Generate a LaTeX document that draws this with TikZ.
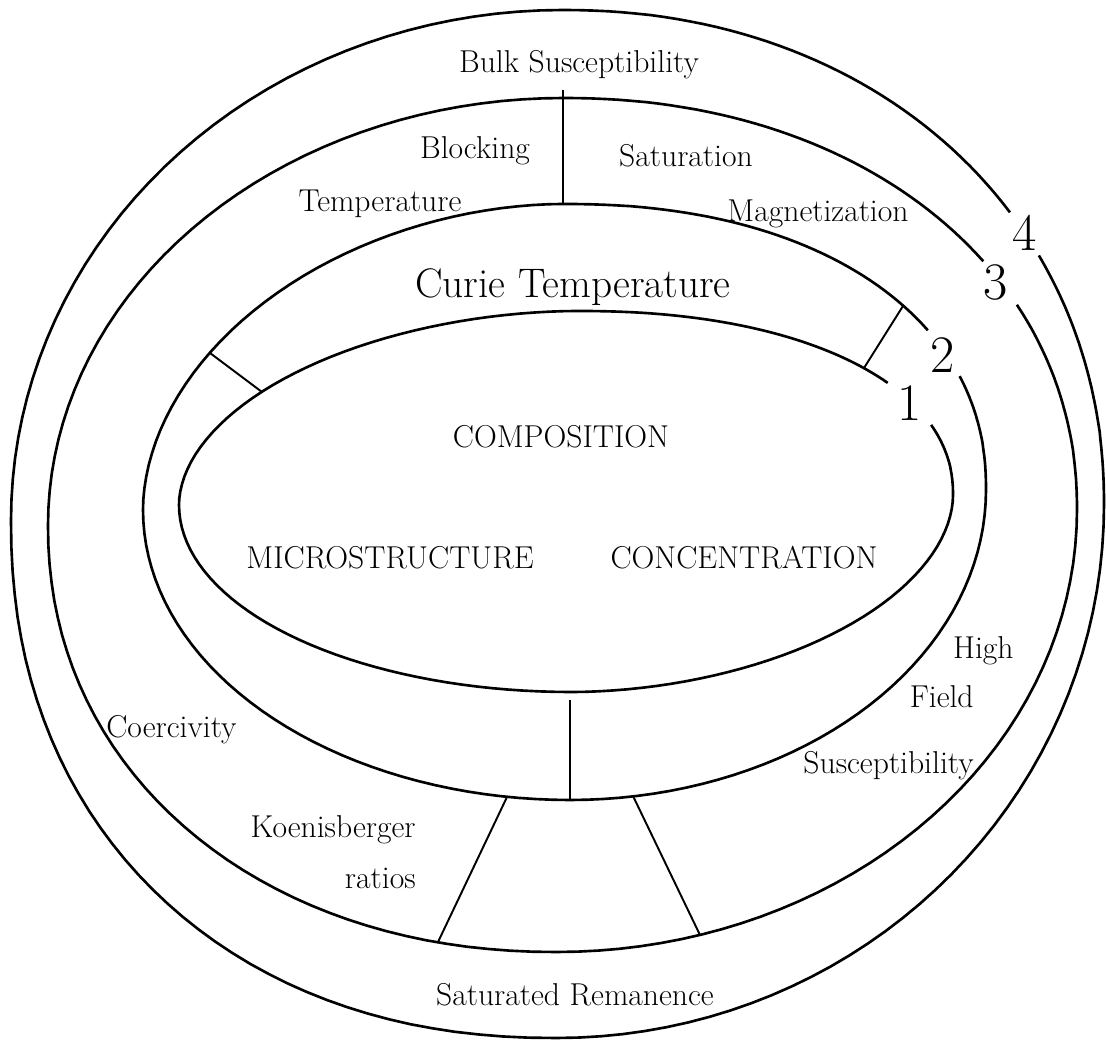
\documentclass[tikz,border=0pt]{standalone}
\usepackage{fontspec}
\usepackage{tikz}
\usetikzlibrary{positioning}
\tikzset{every picture/.style={
  line join=round                % Smooth joins on the rings.
  },
  declare function={sgnpow(\a,\b)=(\a<0?-1:1)*pow(max(abs(\a),0.0001),\b);}
}

% One quarter of a ring: centre x, centre y, x radius, y radius,
% exponent, first and last angle. \ringmore carries on the same line.
\newcommand{\ringarc}[7]{plot[domain=#6:#7,samples=40]
  ({#1+#3*sgnpow(cos(\x),#5)},{#2+#4*sgnpow(sin(\x),#5)})}
\newcommand{\ringmore}[7]{-- plot[domain=#6:#7,samples=40]
  ({#1+#3*sgnpow(cos(\x),#5)},{#2+#4*sgnpow(sin(\x),#5)})}

\begin{document}
\begin{tikzpicture}[
    x=0.02cm, y=-0.02cm,
    ring/.style={
      line width=1.5pt
    },
    bar/.style={
      line width=1.1pt
    },
    thinbar/.style={
      line width=0.8pt
    },
    lbl/.style={
      font=\fontsize{18}{21}\selectfont,
      inner sep=0pt
    },
    caps/.style={
      font=\fontsize{18}{21}\selectfont,
      inner sep=0pt
    },
    num/.style={
      font=\fontsize{30}{30}\selectfont,
      inner sep=0pt
    }]

    \useasboundingbox (0,0) rectangle (1106,1040);

    % Draw the four rings, each left open where its number sits.
    \draw[ring] \ringarc{578}{495}{375}{184}{0.92}{339.5}{360}
      \ringmore{571}{495}{382}{197}{1.05}{0}{90}
      \ringmore{571}{505}{392}{187}{1}{90}{180}
      \ringmore{578}{505}{399}{194}{1.05}{180}{270}
      \ringmore{578}{495}{375}{184}{0.92}{270}{324.3};
    \draw[ring] \ringarc{563}{490}{423}{286}{0.91}{338.7}{360}
      \ringmore{570}{490}{416}{310}{1}{0}{90}
      \ringmore{570}{510}{427}{290}{1}{90}{180}
      \ringmore{563}{510}{420}{306}{1.05}{180}{270}
      \ringmore{563}{490}{423}{286}{0.91}{270}{328.2};
    \draw[ring] \ringarc{563}{510}{514}{412}{0.95}{331.3}{360}
      \ringmore{557}{510}{520}{442}{1}{0}{90}
      \ringmore{557}{525}{509}{427}{0.95}{90}{180}
      \ringmore{563}{525}{515}{427}{1}{180}{270}
      \ringmore{563}{510}{514}{412}{0.95}{270}{324};
    \draw[ring] \ringarc{562}{505}{542}{495}{0.95}{330.9}{360}
      \ringmore{557}{505}{547}{533}{1}{0}{90}
      \ringmore{557}{520}{546}{518}{0.92}{90}{180}
      \ringmore{562}{520}{551}{510}{1}{180}{270}
      \ringmore{562}{505}{542}{495}{0.95}{270}{324.9};

    % Number the rings.
    \node[num] (n1) at (910,403) {1};
    \node[num] (n2) at (943,355) {2};
    \node[num] (n3) at (996,283) {3};
    \node[num] (n4) at (1025,233) {4};

    % Dividers between the compartments.
    \coordinate (topa) at (563,90);
    \coordinate (topb) at (563,204);
    \coordinate (lefta) at (210,353);
    \coordinate (leftb) at (262,392);
    \coordinate (righta) at (903,306);
    \coordinate (rightb) at (864,368);
    \coordinate (bota) at (570,700);
    \coordinate (botb) at (570,800);
    \coordinate (slla) at (507,797);
    \coordinate (sllb) at (438,942);
    \coordinate (slra) at (633,796);
    \coordinate (slrb) at (700,935);

    \draw[thinbar] (topa) -- (topb);
    \draw[bar] (lefta) -- (leftb);
    \draw[bar] (righta) -- (rightb);
    \draw[thinbar] (bota) -- (botb);
    \draw[bar] (slla) -- (sllb);
    \draw[bar] (slra) -- (slrb);

    % Inner core.
    \node[caps,anchor=base] (comp) at (561,448) {COMPOSITION};
    \node[caps,anchor=base] (micro) at (390,568) {MICROSTRUCTURE};
    \node[caps,anchor=base] (conc) at (744,568) {CONCENTRATION};

    % Ring 2.
    \node[font=\fontsize{23.5}{27}\selectfont,inner sep=0pt,anchor=base]
      (curie) at (573,298) {Curie Temperature};

    % Ring 3.
    \node[lbl,anchor=base] (block) at (475,159) {Blocking};
    \node[lbl,anchor=base] (btemp) at (380,212) {Temperature};
    \node[lbl,anchor=base] (satur) at (686,167) {Saturation};
    \node[lbl,anchor=base] (magn) at (818,222) {Magnetization};
    \node[lbl,anchor=base west] (coerc) at (106,737) {Coercivity};
    \node[lbl,anchor=base east] (koen) at (416,837) {Koenisberger};
    \node[lbl,anchor=base east] (ratio) at (416,888) {ratios};
    \node[lbl,anchor=base east] (high) at (1014,658) {High};
    \node[lbl,anchor=base east] (field) at (974,707) {Field};
    \node[lbl,anchor=base east] (hfsus) at (974,773) {Susceptibility};

    % Ring 4.
    \node[lbl,anchor=base] (bulk) at (579,73) {Bulk Susceptibility};
    \node[lbl,anchor=base] (srem) at (575,1005) {Saturated Remanence};
  \end{tikzpicture}
\end{document}
